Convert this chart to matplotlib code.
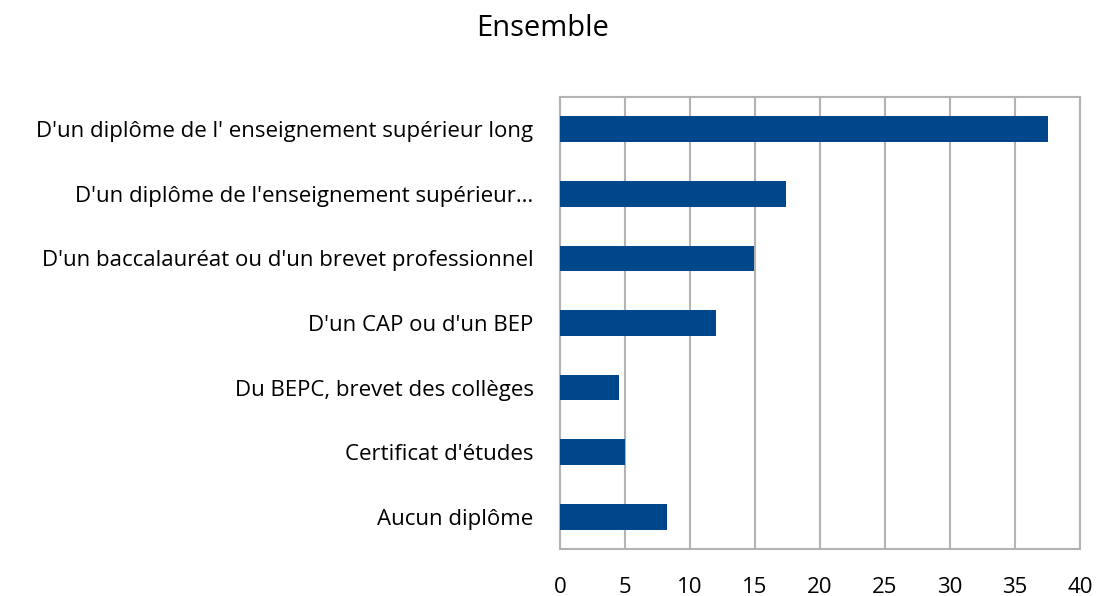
import matplotlib.pyplot as plt
import numpy as np

categories = ["D'un diplôme de l' enseignement supérieur long",
              "D'un diplôme de l'enseignement supérieur…",
              "D'un baccalauréat ou d'un brevet professionnel",
              "D'un CAP ou d'un BEP",
              "Du BEPC, brevet des collèges",
              "Certificat d'études",
              "Aucun diplôme"]
values = [37.5, 17.4, 14.9, 12.0, 4.5, 5.0, 8.2]
xticks = [0, 5, 10, 15, 20, 25, 30, 35, 40]

plt.rcParams['font.family'] = ['Open Sans', 'DejaVu Sans']

fig = plt.figure(figsize=(10.99, 5.96), dpi=100)
ax = fig.add_axes([560/1099, 1 - 549/596, 520/1099, 452/596])

y = np.arange(len(categories))[::-1]
ax.barh(y, values, height=0.4, color='#00468B', zorder=3)

ax.set_xlim(0, 40)
ax.set_ylim(-0.5, len(categories) - 0.5)
ax.set_xticks(xticks)
ax.set_xticklabels([str(t) for t in xticks], fontsize=16)
ax.set_yticks(y)
ax.set_yticklabels(categories, fontsize=16)
ax.tick_params(axis='x', length=0, pad=20)
ax.tick_params(axis='y', length=0, pad=19)
ax.grid(axis='x', color='#b3b3b3', linewidth=1.5, zorder=0)
for s in ax.spines.values():
    s.set_color('#b3b3b3')
    s.set_linewidth(1.5)

fig.text(543/1099, 1 - 29/596, 'Ensemble', ha='center', va='center', fontsize=21)

fig.savefig('out.png', dpi=100)
